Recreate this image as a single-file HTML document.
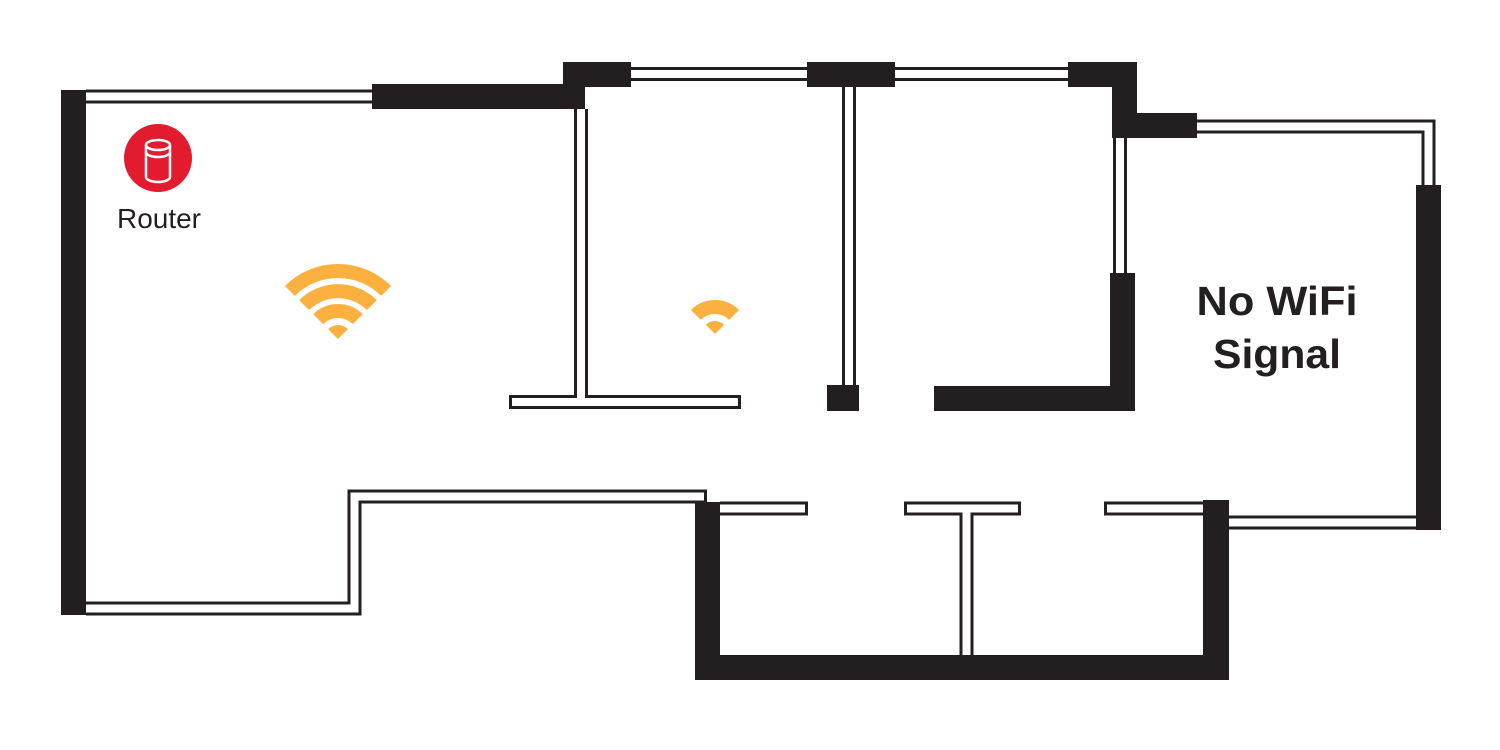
<!DOCTYPE html>
<html><head><meta charset="utf-8"><style>html,body{margin:0;padding:0;background:#fff}svg{display:block}</style></head>
<body>
<svg width="1500" height="750" viewBox="0 0 1500 750" xmlns="http://www.w3.org/2000/svg">
<rect width="1500" height="750" fill="#fff"/>
<g fill="none" stroke="#231f20" stroke-width="14" stroke-linecap="butt" stroke-linejoin="miter">
<path d="M86 96.5 H372"/>
<path d="M581 109 V402"/>
<path d="M509 402 H741"/>
<path d="M631 74 H807"/>
<path d="M895 74 H1068"/>
<path d="M849 87 V385"/>
<path d="M1120 138 V273"/>
<path d="M1197 126.5 H1428.5 V185"/>
<path d="M1229 522.5 H1416"/>
<path d="M86 608.5 H354.5 V496.5 H707"/>
<path d="M720 508.5 H808"/>
<path d="M904 508.5 H1021"/>
<path d="M966.5 508.5 V655"/>
<path d="M1104 508.5 H1203"/>
</g>
<g fill="none" stroke="#fff" stroke-width="8" stroke-linecap="butt" stroke-linejoin="miter">
<path d="M86 96.5 H372"/>
<path d="M512 402 H738"/>
<path d="M581 109 V402"/>
<path d="M631 74 H807"/>
<path d="M895 74 H1068"/>
<path d="M849 87 V385"/>
<path d="M1120 138 V273"/>
<path d="M1197 126.5 H1428.5 V185"/>
<path d="M1229 522.5 H1416"/>
<path d="M86 608.5 H354.5 V496.5 H704"/>
<path d="M720 508.5 H805"/>
<path d="M907 508.5 H1018"/>
<path d="M966.5 508.5 V655"/>
<path d="M1107 508.5 H1203"/>
</g>
<g fill="#231f20">
<rect x="61" y="90" width="25" height="525"/>
<rect x="372" y="84" width="213" height="25"/>
<rect x="563" y="62" width="68" height="25"/>
<rect x="563" y="62" width="22" height="47"/>
<rect x="807" y="62" width="88" height="25"/>
<rect x="1068" y="62" width="69" height="25"/>
<rect x="1112" y="62" width="25" height="76"/>
<rect x="1112" y="113" width="85" height="25"/>
<rect x="1416" y="185" width="25" height="345"/>
<rect x="1110" y="273" width="25" height="138"/>
<rect x="934" y="386" width="201" height="25"/>
<rect x="827" y="385" width="32" height="26"/>
<rect x="695" y="502" width="25" height="178"/>
<rect x="695" y="655" width="534" height="25"/>
<rect x="1203" y="500" width="26" height="180"/>
</g>
<g fill="none" stroke="#fbb040" stroke-width="14" stroke-linecap="butt">
<path d="M289.9 290.9 A68 68 0 0 1 386.1 290.9"/>
<path d="M304.1 305.1 A48 48 0 0 1 371.9 305.1"/>
<path d="M318.2 319.2 A28 28 0 0 1 357.8 319.2"/>
<path d="M695.9 314.9 A27 27 0 0 1 734.1 314.9"/>
</g>
<g fill="#fbb040">
<path d="M338 339 L328.1 329.1 A14 14 0 0 1 347.9 329.1 Z"/>
<path d="M715 334 L705.8 324.8 A13 13 0 0 1 724.2 324.8 Z"/>
</g>
<circle cx="158" cy="158" r="34" fill="#e31b2e"/>
<g fill="none" stroke="#fff" stroke-width="2.5">
<ellipse cx="158" cy="145" rx="12" ry="5"/>
<path d="M146 145 V177 A12 5 0 0 0 170 177 V145"/>
<path d="M146 152 A12 5 0 0 0 170 152"/>
</g>
<text x="159" y="228" text-anchor="middle" font-family="Liberation Sans, sans-serif" font-size="28" fill="#231f20" textLength="84" lengthAdjust="spacingAndGlyphs">Router</text>
<text x="1277" y="315" text-anchor="middle" font-family="Liberation Sans, sans-serif" font-weight="bold" font-size="41" fill="#231f20" textLength="161" lengthAdjust="spacingAndGlyphs">No WiFi</text>
<text x="1277" y="368" text-anchor="middle" font-family="Liberation Sans, sans-serif" font-weight="bold" font-size="41" fill="#231f20" textLength="128" lengthAdjust="spacingAndGlyphs">Signal</text>
</svg>
</body></html>
